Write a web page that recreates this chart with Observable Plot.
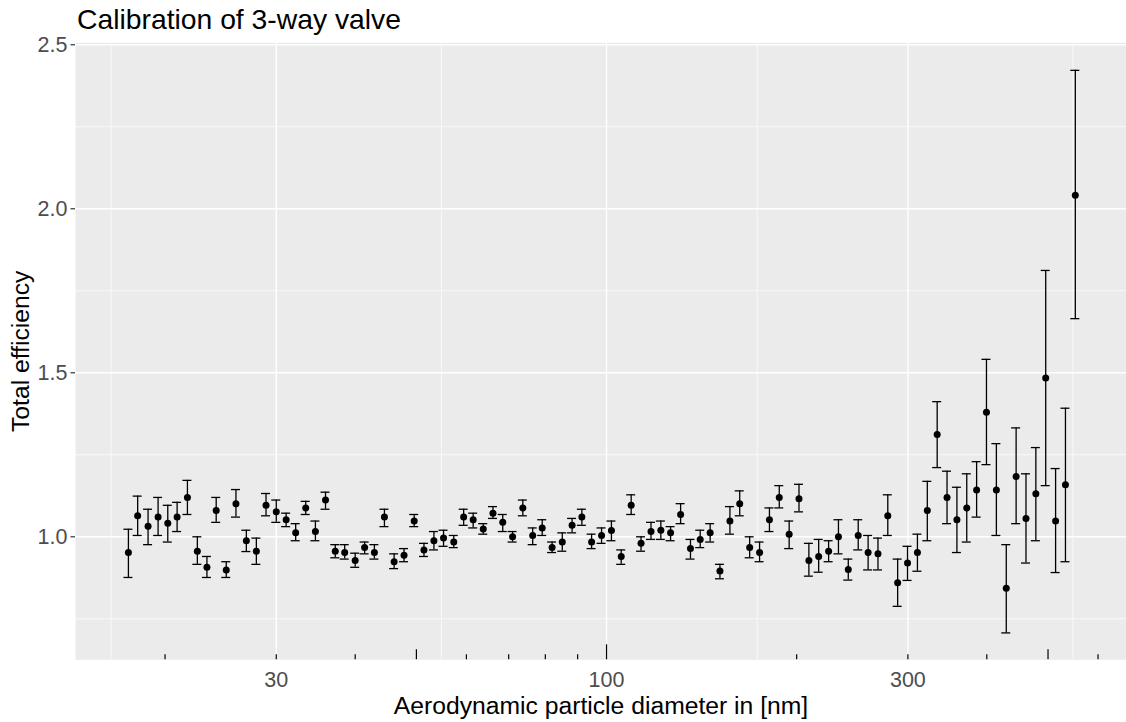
<!DOCTYPE html>
<html><head><meta charset="utf-8">
<script src="https://cdn.jsdelivr.net/npm/d3@7"></script>
<script src="https://cdn.jsdelivr.net/npm/@observablehq/plot@0.6"></script>
<style>body{margin:0;background:#fff;} #chart{width:1126px;height:722px;overflow:hidden;}</style>
</head><body><div id="chart"></div>
<script>
const title = "Calibration of 3-way valve";
const xTitle = "Aerodynamic particle diameter in [nm]";
const yTitle = "Total efficiency";

const diameter = [17.5, 18.1, 18.8, 19.5, 20.2, 20.9, 21.7, 22.5, 23.3, 24.1, 25.0, 25.9, 26.9, 27.9, 28.9, 30.0,
  31.1, 32.2, 33.4, 34.6, 35.9, 37.2, 38.5, 40.0, 41.4, 42.9, 44.5, 46.1, 47.8, 49.6, 51.4, 53.3, 55.2, 57.3,
  59.4, 61.5, 63.8, 66.1, 68.5, 71.0, 73.7, 76.4, 79.1, 82.0, 85.1, 88.2, 91.4, 94.7, 98.2, 101.8, 105.5,
  109.4, 113.4, 117.6, 121.9, 126.3, 131.0, 135.8, 140.7, 145.9, 151.2, 156.8, 162.5, 168.5, 174.7, 181.1,
  187.7, 194.6, 201.7, 209.1, 216.7, 224.7, 232.9, 241.4, 250.3, 259.5, 269.0, 278.8, 289.0, 299.6, 310.6,
  322.0, 333.8, 346.0, 358.7, 371.8, 385.4, 399.5, 414.2, 429.4, 445.1, 461.4, 478.3, 495.8, 514.0, 532.8, 552.3];

const efficiency = [0.952, 1.064, 1.032, 1.060, 1.041, 1.060, 1.120, 0.956, 0.907, 1.080, 0.899, 1.101, 0.988,
  0.956, 1.096, 1.076, 1.052, 1.012, 1.088, 1.016, 1.112, 0.956, 0.952, 0.928, 0.967, 0.952, 1.060, 0.924,
  0.944, 1.048, 0.960, 0.988, 0.996, 0.984, 1.060, 1.052, 1.024, 1.072, 1.044, 1.000, 1.088, 1.004, 1.027,
  0.967, 0.984, 1.035, 1.060, 0.984, 1.004, 1.019, 0.940, 1.096, 0.980, 1.016, 1.020, 1.012, 1.068, 0.964,
  0.992, 1.012, 0.896, 1.048, 1.101, 0.967, 0.952, 1.052, 1.120, 1.008, 1.116, 0.928, 0.940, 0.956, 1.000,
  0.900, 1.004, 0.952, 0.948, 1.064, 0.860, 0.920, 0.952, 1.080, 1.312, 1.120, 1.052, 1.088, 1.143, 1.380,
  1.143, 0.843, 1.184, 1.056, 1.131, 1.484, 1.048, 1.159, 2.041];

const lower = [0.876, 1.004, 0.976, 1.004, 0.984, 1.016, 1.068, 0.916, 0.876, 1.044, 0.876, 1.060, 0.955,
  0.916, 1.064, 1.044, 1.031, 0.988, 1.068, 0.988, 1.084, 0.936, 0.932, 0.907, 0.948, 0.932, 1.031, 0.903,
  0.924, 1.031, 0.940, 0.960, 0.971, 0.967, 1.035, 1.027, 1.008, 1.056, 1.016, 0.984, 1.064, 0.976, 1.004,
  0.952, 0.956, 1.012, 1.035, 0.964, 0.980, 0.988, 0.916, 1.068, 0.956, 0.992, 0.992, 0.988, 1.040, 0.932,
  0.967, 0.984, 0.872, 1.008, 1.064, 0.936, 0.924, 1.016, 1.088, 0.964, 1.076, 0.880, 0.892, 0.924, 0.948,
  0.868, 0.960, 0.899, 0.899, 1.004, 0.788, 0.867, 0.895, 0.988, 1.211, 1.040, 0.952, 0.984, 1.060, 1.220,
  1.004, 0.707, 1.040, 0.920, 0.988, 1.156, 0.891, 0.924, 1.665];

const upper = [1.023, 1.124, 1.084, 1.120, 1.096, 1.105, 1.172, 1.000, 0.940, 1.120, 0.924, 1.144, 1.020,
  0.996, 1.132, 1.112, 1.072, 1.040, 1.108, 1.048, 1.136, 0.976, 0.976, 0.950, 0.984, 0.976, 1.084, 0.948,
  0.964, 1.068, 0.980, 1.016, 1.020, 1.004, 1.084, 1.072, 1.040, 1.092, 1.068, 1.016, 1.112, 1.027, 1.052,
  0.984, 1.012, 1.056, 1.084, 1.008, 1.027, 1.048, 0.960, 1.128, 1.000, 1.044, 1.048, 1.031, 1.101, 0.992,
  1.020, 1.040, 0.916, 1.092, 1.140, 1.000, 0.984, 1.088, 1.156, 1.048, 1.160, 0.980, 0.992, 0.988, 1.052,
  0.932, 1.052, 1.004, 0.996, 1.128, 0.932, 0.971, 1.008, 1.169, 1.412, 1.200, 1.151, 1.192, 1.229, 1.541,
  1.284, 0.976, 1.332, 1.192, 1.272, 1.812, 1.208, 1.392, 2.422];

const xBreaks = [30, 100, 300];
const xMinorBreaks = [16.43, 54.77, 173.2, 547.7];
const yBreaks = [1.0, 1.5, 2.0, 2.5];
const yMinorBreaks = [0.75, 1.25, 1.75, 2.25];
const logTicksShort = [20, 30, 40, 60, 70, 80, 90, 200, 300, 400, 600];
const logTicksMid = [50, 500];
const logTicksLong = [100];

const rows = diameter.map((d, i) => ({d, eff: efficiency[i], lo: lower[i], hi: upper[i]}));

const W = 1126, H = 722, mL = 75, mR = 0, mT = 42.3, mB = 62.7;
const panelH = H - mT - mB;
const font = "'Liberation Sans', Arial, sans-serif";

const chart = Plot.plot({
  width: W, height: H,
  marginLeft: mL, marginRight: mR, marginTop: mT, marginBottom: mB,
  style: {fontFamily: font, background: "white", overflow: "visible"},
  x: {type: "log", domain: [14.43, 665.6]},
  y: {domain: [0.625, 2.506]},
  marks: [
    Plot.frame({fill: "#EBEBEB", stroke: null}),
    Plot.ruleY(yMinorBreaks, {stroke: "white", strokeWidth: 0.7}),
    Plot.ruleX(xMinorBreaks, {stroke: "white", strokeWidth: 0.7}),
    Plot.ruleY(yBreaks, {stroke: "white", strokeWidth: 1.4}),
    Plot.ruleX(xBreaks, {stroke: "white", strokeWidth: 1.4}),
    Plot.ruleX(logTicksShort, {stroke: "black", strokeWidth: 1.2, insetTop: panelH - 5}),
    Plot.ruleX(logTicksMid, {stroke: "black", strokeWidth: 1.2, insetTop: panelH - 10}),
    Plot.ruleX(logTicksLong, {stroke: "black", strokeWidth: 1.2, insetTop: panelH - 15}),
    Plot.ruleX(rows, {x: "d", y1: "lo", y2: "hi", stroke: "black", strokeWidth: 1.3}),
    Plot.ruleY(rows, {x1: "d", x2: "d", y: "lo", insetLeft: -4.5, insetRight: -4.5, stroke: "black", strokeWidth: 1.3}),
    Plot.ruleY(rows, {x1: "d", x2: "d", y: "hi", insetLeft: -4.5, insetRight: -4.5, stroke: "black", strokeWidth: 1.3}),
    Plot.dot(rows, {x: "d", y: "eff", r: 3.5, fill: "black", stroke: null}),
    Plot.axisY(yBreaks, {tickSize: 4.5, tickPadding: 3.5, tickFormat: d3.format(".1f"), fontSize: 21.5,
      fill: "#4D4D4D", stroke: "#333333", strokeWidth: 1.2, label: null}),
    Plot.axisX(xBreaks, {tickSize: 0, tickPadding: 11.5, tickFormat: d => String(d), fontSize: 21.5,
      fill: "#4D4D4D", label: null}),
    Plot.text([title], {text: d => d, frameAnchor: "top-left", textAnchor: "start", lineAnchor: "bottom",
      dx: 1.5, dy: -14.3, fontSize: 28.3, fill: "black"}),
    Plot.text([xTitle], {text: d => d, frameAnchor: "bottom", textAnchor: "middle", lineAnchor: "bottom",
      dx: 0, dy: 53.7, fontSize: 24.7, fill: "black"}),
    Plot.text([yTitle], {text: d => d, frameAnchor: "left", textAnchor: "middle", lineAnchor: "bottom",
      rotate: -90, dx: -47, dy: 0, fontSize: 24.7, fill: "black"})
  ]
});
document.getElementById("chart").appendChild(chart);
</script>
</body></html>
